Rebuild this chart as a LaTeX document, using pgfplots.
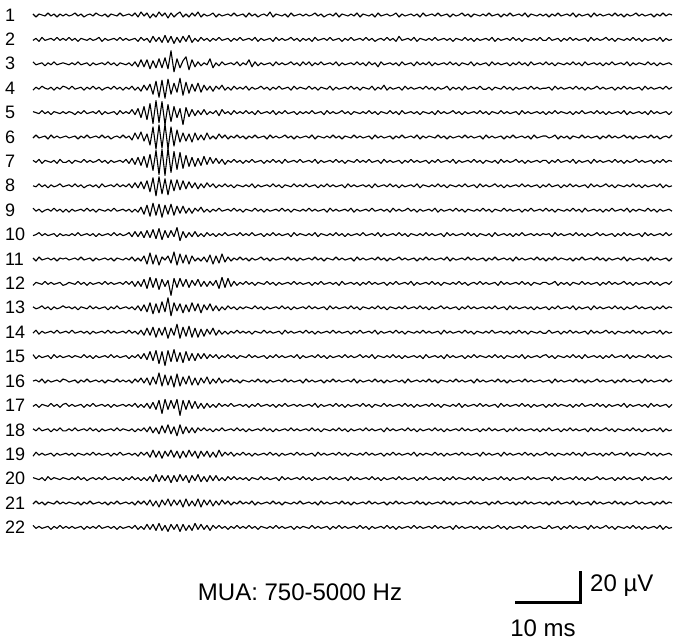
\documentclass[border=0pt]{standalone}
\usepackage{fontspec}
\setmainfont{Liberation Sans}
\usepackage{pgfplots}
\usepackage{pgfplotstable}
\pgfplotsset{compat=1.18}
% each trace: one row of values (pixels, positive = up), sampled every 3 px from x=33
\pgfplotstableread[header=false]{
1 -2 1 0 -1 2 -1 1 -2 1 -1 1 -1 0 2 -1 1 -2 0 1 -1 2 0 -1 1 -2 1 0 -1 2 -1 0 1 -1 2 -2 3 -1 2 -3 1 -2 3 -1 2 -3 2 -2 1 3 -2 1 -2 2 -1 3 -2 1 -1 0 2 -2 1 -1 0 1 -1 2 -1 0 1 -2 2 -1 1 -2 0 1 -1 3 -2 1 0 -1 1 -2 2 -1 0 1 -1 1 -1 0 2 -1 1 -2 0 1 -1 2 -2 1 0 -1 1 -1 2 -2 1 0 -1 1 -2 2 -1 0 1 -1 0 2 -2 1 -1 0 1 -1 1 -2 2 -1 0 1 -1 2 -1 0 1 -2 1 -1 0 2 -1 1 -2 1 0 -1 1 -1 2 -1 0 1 -2 1 -1 2 -1 0 1 -1 2 -2 1 0 -1 1 -1 1 -2 1 -1 2 -1 0 1 -1 2 -2 1 -1 0 1 -2 2 -1 1 -1 0 1 -1 2 -1 1 -2 1 -1 0 2 -1 1 -1 0 1 -2 1 -1 2 -1 1 0
}\rA
\pgfplotstableread[header=false]{
-1 1 -2 2 -1 0 1 -1 2 -1 1 -1 2 -1 1 -2 1 0 -1 1 -1 0 2 -2 1 -1 0 1 -1 2 -1 1 -1 0 1 -2 2 -1 1 -3 3 -2 2 -3 4 -3 3 -4 2 -3 3 -2 4 -3 1 -2 2 -1 1 -2 1 -1 2 -1 0 1 -2 1 -1 2 -1 0 1 -1 2 -2 1 -1 0 1 -2 2 -1 1 -1 0 2 -1 1 -2 1 -1 1 -2 2 -1 0 1 -1 2 -1 0 1 -2 1 -1 2 -1 0 1 -1 2 -1 1 -2 0 1 -1 2 -1 1 -2 3 -1 0 1 -1 2 -2 1 0 -1 1 -1 2 -1 0 1 -1 1 -2 1 0 -1 2 -1 1 -2 1 -1 0 1 -1 2 -2 1 -1 0 1 -1 2 -1 1 -2 1 0 -1 1 -1 2 -1 -1 2 -1 0 1 -2 1 -1 2 -1 1 -1 0 1 -2 2 -1 1 -1 0 2 -1 1 -2 1 0 -1 1 -1 2 -1 1 -2 1 -1 0 1 -1 2 -2 1 -1 0
}\rB
\pgfplotstableread[header=false]{
2 -1 0 1 -2 1 -1 2 -1 0 1 0 -1 1 -1 2 -1 0 1 -2 1 -1 0 1 -1 2 -1 1 -2 1 0 -1 1 -2 2 -3 4 -3 4 -5 3 -4 5 -4 6 -5 13 -8 5 -4 3 7 -6 4 -3 2 -2 1 -1 5 -4 1 -2 2 -1 0 1 -1 2 -2 1 -1 4 -3 2 -2 1 -1 0 1 -2 2 -1 1 -1 0 2 -1 1 -2 2 -1 2 -2 1 -1 2 -1 0 1 -1 2 -2 1 -1 0 1 -1 2 -1 1 -2 2 -1 1 -3 2 -1 0 1 -1 1 -2 2 -1 0 1 -2 2 -1 1 -1 2 -2 1 -1 0 1 -1 2 -1 1 -2 1 0 -1 2 -2 1 -1 0 1 -2 2 -1 1 -1 0 1 -2 1 -1 2 -1 1 -2 2 -1 0 1 -1 2 -1 1 -2 1 0 -1 1 -1 2 -1 1 -2 2 -1 0 1 -1 1 -2 1 -1 2 -1 0 1 -1 2 -2 1 -1 1 0 -1 2 -1 1 -2 1 -1 0 1 -1
}\rC
\pgfplotstableread[header=false]{
-2 1 -1 2 0 -1 1 -2 1 -1 2 1 -1 2 -1 0 1 -2 1 -1 2 -1 1 -2 0 1 -1 2 -1 1 -2 1 -1 2 -2 1 -3 3 -2 4 -6 7 -9 8 -10 9 -6 5 -4 10 -7 6 -5 4 -3 5 -4 3 -2 2 -3 2 -1 3 -2 1 -2 2 -1 1 -1 2 -2 1 -1 0 2 -1 1 -2 1 -1 2 -1 0 1 -2 2 -1 1 0 -1 2 -1 1 -2 1 0 -1 2 -2 1 -1 0 1 -1 2 -1 1 -2 1 0 -1 2 -2 1 -1 3 -2 1 -1 0 1 -2 2 -1 1 -1 0 1 -1 2 -1 1 -2 1 -1 0 2 -2 1 -1 1 -2 2 -1 0 1 -1 2 -1 -1 1 -2 1 0 -1 2 -1 1 -2 1 -1 0 1 -1 2 -1 1 -1 0 0 1 -2 2 -1 1 -1 0 1 -1 2 -1 1 -2 1 -1 0 2 -1 1 -1 0 1 -2 1 -1 2 -1 1 -1 0 1 -2 2 -1 1 -1 0 1 -1 2 -1 1
}\rD
\pgfplotstableread[header=false]{
1 0 -1 2 -1 1 -2 1 0 -1 1 -1 1 0 -2 1 -1 2 -1 0 1 -1 2 -2 1 -1 0 1 -2 2 -1 1 -1 3 -2 4 -5 6 -7 9 -11 12 -10 11 -12 8 -9 6 -5 4 -12 5 -4 3 -3 2 -2 3 -2 1 -1 2 -3 3 -1 1 -2 2 -1 1 -1 2 -1 1 -2 2 -1 0 1 -1 2 -2 1 -1 2 -1 0 1 -2 1 -1 1 -1 2 -1 0 1 -2 2 -1 1 -1 0 2 -1 1 -2 1 0 -1 1 -1 2 -1 1 -2 1 0 -1 2 -1 1 -2 2 -1 0 1 -1 1 -2 1 0 -1 1 -2 2 -1 1 -1 0 2 -1 1 -2 1 -1 0 1 -1 2 -1 1 -2 1 0 -1 2 -1 1 -1 0 1 -2 2 -1 1 -1 0 1 -1 1 -2 1 -1 2 -1 1 0 -1 1 -2 1 -1 2 -1 0 1 -1 2 -1 1 -2 1 -1 0 1 -1 2 -2 1 -1 0 1 -1 1 -2 2 -1 1 -1 0 1 -2 1
}\rE
\pgfplotstableread[header=false]{
-1 2 -1 0 1 -2 2 -1 1 -1 0 1 -1 0 1 -2 1 -1 2 -1 0 1 -1 2 -1 1 -2 0 1 -1 2 -1 1 -3 4 -2 5 -4 3 -8 10 -12 12 -11 13 -12 10 -9 7 -5 4 -4 3 -5 4 -3 2 -3 4 -2 1 -2 3 -1 2 -2 1 -1 2 -1 1 -2 1 -1 2 -1 0 1 -2 2 -1 1 -1 0 2 -1 1 -2 1 -1 0 1 -1 2 -2 1 0 -1 1 -1 2 -1 1 -2 1 0 -1 2 -1 1 -1 0 1 -2 2 -1 1 -1 0 1 -2 1 -1 2 -1 0 1 -1 2 -2 1 -1 1 0 -1 2 -1 1 -2 1 -1 0 1 -1 2 -1 1 -1 0 1 -2 2 -1 1 -1 0 1 -2 1 -1 2 -1 0 1 -1 1 -2 2 -1 0 1 1 -1 0 2 -2 1 -1 1 -2 1 0 -1 2 -1 1 -1 0 1 -2 1 -1 2 -1 1 -1 0 2 -1 1 -2 1 -1 0 1 -1 2 -1 1 -2 0 1 -1 2
}\rF
\pgfplotstableread[header=false]{
1 -1 2 -2 1 0 -1 1 -2 2 -1 -1 1 -2 1 0 -1 2 -1 1 -1 0 2 -1 1 -2 1 -1 0 1 -1 2 -2 3 -3 4 -4 5 -6 7 -9 11 -13 12 -14 13 -11 10 -8 9 -7 6 -5 4 -5 3 -4 5 -3 4 -2 3 -2 2 -3 1 -1 2 -1 1 -2 1 -1 2 -1 0 1 -2 1 -1 2 -1 1 -2 2 -1 0 1 -1 2 -1 0 1 -1 2 -2 1 -1 0 1 -1 2 -1 1 -2 1 0 -1 2 -1 1 -1 2 -1 0 1 -2 2 -1 1 -1 0 1 -2 1 -1 2 -1 1 -1 0 1 -2 1 -1 2 -1 0 1 -1 2 -2 1 -1 0 1 -1 2 -1 1 -2 1 0 -1 1 -2 2 -1 1 -1 0 2 -1 1 -2 1 -1 0 1 -1 1 1 -2 1 -1 2 -1 0 1 -1 2 -2 1 -1 0 1 -2 2 -1 1 -1 0 1 -1 2 -1 1 -2 1 -1 0 2 -1 1 -1 0 1 -2 1 -1 2 -1 1 0
}\rG
\pgfplotstableread[header=false]{
0 -1 2 -1 1 -2 1 -1 0 2 -1 0 1 -1 2 -1 1 -2 0 1 -1 1 -2 2 -1 0 1 -1 2 -1 1 -1 2 -2 3 -2 4 -3 5 -6 8 -10 9 -8 7 -9 6 -5 6 -4 5 -3 4 -2 3 -3 2 -2 3 -1 2 -2 1 -1 2 -1 1 -2 1 0 -1 1 -1 2 -2 1 -1 0 1 -1 2 -1 1 -2 1 0 -1 2 -1 1 -1 2 -1 0 1 -2 1 -1 2 -1 1 -1 0 1 -2 2 -1 1 -1 0 1 -1 1 -2 2 -1 0 1 -1 2 -1 1 -2 1 -1 0 1 -1 2 -2 1 0 -1 1 -1 2 -1 1 -2 1 0 -1 1 -1 2 -1 0 1 -2 2 -1 1 -1 0 2 -1 1 -2 1 -1 0 1 -1 2 -1 1 -1 0 1 -2 1 -1 2 -1 0 1 -2 1 -1 2 -1 1 -1 0 1 -2 2 -1 1 -1 0 2 -1 1 -2 1 0 -1 1 -1 2 -1 1 -2 1 -1 0 1 -1 2 -2 1 -1 0
}\rH
\pgfplotstableread[header=false]{
2 -1 1 -2 0 1 -1 2 -1 1 -2 1 -2 1 -1 0 1 -1 2 -1 1 -2 1 0 -1 1 -1 2 -1 0 1 -1 1 -2 1 -2 3 -4 5 -6 7 -5 6 -7 5 -4 6 -5 4 -3 4 -3 2 -3 2 -1 3 -2 1 -2 1 -1 2 -1 0 1 -1 2 -1 1 -2 1 0 -1 2 -1 1 -2 1 -1 0 1 -1 2 -1 1 -2 1 0 -1 1 -1 2 -1 1 -1 0 1 -2 2 -1 1 -1 0 1 -1 2 -2 1 -1 0 1 -1 2 -1 0 1 -1 1 -2 2 -1 1 -1 0 2 -1 1 -2 1 -1 0 1 -1 2 -2 1 -1 0 1 -1 2 -1 1 -2 1 0 -1 1 -1 2 -1 1 -2 1 0 -1 2 -1 1 -1 0 1 -2 1 -1 2 -1 0 1 -1 2 -1 1 -2 1 0 -1 1 -1 2 -1 1 -2 2 -1 0 1 -1 1 -2 1 -1 2 -1 0 1 -1 2 -2 1 -1 1 0 -1 2 -1 1 -2 1 -1 0 1 -1
}\rI
\pgfplotstableread[header=false]{
-1 0 2 -1 1 -1 0 1 -2 1 -1 0 -1 1 -1 2 -1 0 1 -1 1 -2 1 -1 0 1 -1 2 -1 1 -1 0 2 -2 3 -2 3 -3 4 -3 5 -4 6 -5 4 -3 4 -2 7 -6 3 -3 2 -2 3 -2 1 -2 2 -1 1 -2 1 -1 2 -1 0 1 -1 2 -1 1 -1 2 -1 0 1 -2 1 -1 2 -1 1 -1 0 1 -2 2 -1 1 0 -1 1 -1 2 -2 1 0 -1 1 -1 2 -1 1 -2 1 -1 0 1 -1 2 -1 0 1 -1 2 -2 1 -1 0 1 -1 2 -1 1 -2 1 0 -1 1 -1 2 -1 1 -1 0 1 -2 2 -1 1 -1 0 1 -1 2 -1 1 -2 1 0 -1 1 -2 2 -1 0 1 -1 1 -2 1 -1 2 -1 0 1 -1 1 -1 1 0 1 -2 2 -1 1 -1 0 1 -1 2 -1 1 -2 1 -1 0 2 -1 1 -1 0 1 -2 1 -1 2 -1 1 -1 0 1 -2 2 -1 1 -1 0 1 -1 2 -1 1
}\rJ
\pgfplotstableread[header=false]{
1 -2 2 -1 0 1 -1 1 -2 1 0 1 -1 0 1 -1 2 -1 0 1 -2 1 -1 0 1 -1 1 -2 1 0 -1 1 -1 2 -2 1 -2 3 -5 6 -5 4 -6 2 -1 3 -4 7 -6 5 -4 4 -5 3 -2 1 -2 2 -3 4 -5 3 -4 5 -3 2 -2 1 -1 2 -1 1 -2 1 -1 0 2 -1 1 -2 1 -1 0 1 -1 2 -1 1 -2 1 -1 0 1 -1 2 -1 1 -2 1 0 -1 2 -1 1 -1 0 1 -2 2 -1 1 -1 0 1 -1 2 -1 1 -2 1 -1 0 2 -1 1 -1 0 1 -2 1 -1 2 -1 1 -1 0 1 -1 2 -2 1 -1 0 1 -1 2 -1 1 -1 0 1 -2 1 -1 2 -1 0 1 -1 1 -2 2 -1 1 -1 0 1 -1 2 -1 1 -2 1 -1 2 -1 1 0 -1 1 -2 1 -1 2 -1 0 1 -1 2 -1 1 -2 1 -1 0 1 -1 2 -2 1 -1 0 1 -1 1 -2 2 -1 1 -1 0 1 -2 1
}\rK
\pgfplotstableread[header=false]{
-2 1 0 -1 2 -1 1 -1 0 1 -2 -1 1 0 -1 2 -1 1 -2 1 -1 0 1 -1 2 -1 1 -1 0 1 -1 2 -1 2 -3 2 -3 4 -5 6 -4 5 -6 4 -3 3 -12 5 -4 5 -3 4 -4 3 -2 4 -3 2 -3 2 -2 3 -5 6 -4 5 -3 2 -2 1 -1 2 -1 1 -2 1 0 -1 2 -1 1 -2 1 -1 0 1 -1 2 -1 1 -1 0 1 -2 1 -1 2 -1 0 1 -1 1 -2 2 -1 0 1 -1 1 -2 1 -1 2 -1 1 -1 0 1 -2 1 -1 2 -1 0 1 -1 2 -2 1 -1 0 1 -1 2 -1 1 -2 1 0 -1 1 -1 2 -1 1 -2 0 1 -1 2 -1 1 -1 0 1 -2 2 -1 1 -1 0 1 -1 2 -1 1 -2 1 0 -1 1 1 -1 0 2 -2 1 -1 1 -2 1 0 -1 2 -1 1 -1 0 1 -2 1 -1 2 -1 1 -1 0 2 -1 1 -2 1 -1 0 1 -1 2 -1 1 -2 0 1 -1 2
}\rL
\pgfplotstableread[header=false]{
1 -1 0 2 -1 1 -2 1 -1 0 2 0 1 -1 1 -2 1 0 -1 2 -1 1 -1 0 1 -2 1 -1 2 -1 0 1 -1 1 -2 2 -3 3 -4 5 -6 4 -5 6 -4 10 -8 5 -3 4 -5 3 -4 5 -3 4 -5 3 -2 4 -3 2 -3 1 -2 2 -1 1 -2 1 -1 1 0 -1 2 -1 1 -2 1 -1 0 1 -1 2 -1 1 -2 1 -1 0 1 -1 2 -1 1 -1 0 1 -2 2 -1 1 -1 0 1 -1 2 -1 1 -2 1 0 -1 1 -1 2 -1 1 -2 1 0 -1 1 -1 2 -1 0 1 -1 2 -1 1 -2 1 -1 0 2 -1 1 -1 0 1 -2 1 -1 2 -1 1 -1 0 1 -1 1 -1 2 -1 0 1 -2 2 -1 1 -1 0 1 -1 1 -2 1 -1 0 1 -2 1 -1 2 -1 0 1 -1 2 -2 1 -1 0 1 -2 2 -1 1 -1 0 1 -1 2 -1 1 -2 1 -1 0 2 -1 1 -1 0 1 -2 1 -1 2 -1 1 0
}\rM
\pgfplotstableread[header=false]{
-1 2 -2 1 -1 0 1 -1 2 -1 0 1 -1 2 -1 0 1 -1 1 -2 1 -1 0 1 -1 2 -1 1 -1 0 1 -1 2 -1 1 -2 2 -3 4 -3 5 -5 4 -3 5 -6 4 -3 8 -6 5 -4 6 -5 4 -5 3 -4 3 -2 4 -3 2 -2 1 -2 1 -1 2 -1 1 -1 1 -2 1 0 -1 2 -1 1 -1 0 1 -2 2 -1 1 -1 0 1 -1 2 -1 1 -2 1 -1 0 1 -1 2 -1 1 -1 0 1 -2 1 -1 2 -1 0 1 -1 2 -2 1 -1 0 1 -1 2 -1 1 -2 1 0 -1 1 -1 2 -1 1 -1 0 1 -2 2 -1 1 -1 0 1 -1 2 -1 1 -2 1 0 -1 1 -1 2 -1 0 1 -1 1 -2 1 -1 2 -1 1 -2 1 0 -1 1 -1 -1 2 -1 0 1 -2 1 -1 2 -1 1 -1 0 1 -2 2 -1 1 -1 0 2 -1 1 -2 1 0 -1 1 -1 2 -1 1 -2 1 -1 0 1 -1 2 -2 1 -1 0
}\rN
\pgfplotstableread[header=false]{
2 -2 1 -1 0 1 -2 2 -1 1 -1 0 1 -1 1 0 -1 2 -1 1 -2 1 -1 0 1 -1 2 -1 1 -1 0 1 -2 1 -1 2 -2 3 -3 5 -4 6 -7 5 -9 6 -5 7 -5 4 -6 5 -4 3 -4 3 -2 3 -2 2 -1 2 -2 1 -1 2 -1 1 -2 1 0 -1 2 -1 1 -1 0 1 -2 1 -1 2 -1 1 -1 0 1 -1 2 -2 1 -1 0 1 -1 2 -1 1 -2 1 -1 0 1 -1 2 -1 1 -1 0 2 -1 1 -1 2 -2 1 0 -1 1 -1 2 -1 1 -2 1 -1 0 1 -1 1 -2 2 -1 0 1 -1 1 -2 2 -1 1 -1 0 1 -2 1 -1 2 -1 1 0 -1 1 -1 2 -1 1 -2 1 0 -1 1 -1 2 -2 1 -1 0 1 -1 1 2 -1 1 -2 1 0 -1 1 -1 2 -1 1 -2 2 -1 0 1 -1 1 -2 1 -1 2 -1 0 1 -1 2 -2 1 -1 1 0 -1 2 -1 1 -2 1 -1 0 1 -1
}\rO
\pgfplotstableread[header=false]{
0 1 -1 2 -2 1 -1 0 1 -1 2 1 -1 0 1 -2 1 -1 2 -1 0 1 -1 1 -2 1 0 -1 2 -1 1 -1 1 -2 2 -1 3 -2 3 -4 4 -3 8 -5 6 -4 5 -6 7 -5 4 -3 5 -4 3 -4 3 -2 4 -3 2 -2 3 -2 1 -1 2 -1 1 -2 1 0 -1 1 -1 2 -1 1 -2 1 -1 0 1 -1 2 -1 1 -1 0 1 -2 2 -1 1 -1 0 1 -2 1 -1 2 -1 1 -1 0 1 -1 2 -2 1 -1 0 1 -1 2 -1 1 -2 1 -1 0 1 -1 1 -2 2 -1 0 1 -1 1 -1 2 -1 1 -2 1 0 -1 1 -1 2 -1 1 -1 0 1 -2 2 -1 1 -1 0 1 -1 2 -1 1 -2 1 -1 0 1 -1 2 -1 1 -1 0 1 -1 0 1 -2 2 -1 1 -1 0 1 -1 2 -1 1 -2 1 -1 0 2 -1 1 -1 0 1 -2 1 -1 2 -1 1 -1 0 1 -2 2 -1 1 -1 0 1 -1 2 -1 1
}\rP
\pgfplotstableread[header=false]{
-1 1 -2 1 0 -1 2 -1 1 -2 1 2 -1 1 -1 0 1 -2 1 -1 2 -1 0 1 -1 1 -2 1 -1 0 1 -1 1 -1 2 -2 1 -2 2 -3 3 -4 5 -8 6 -4 5 -3 6 -10 5 -4 5 -3 4 -3 2 -3 2 -2 1 -2 2 -1 1 -1 2 -1 0 1 -1 1 -2 1 -1 2 -1 0 1 -1 1 -2 1 -1 2 -1 0 1 -1 1 -1 0 1 -1 2 -2 1 -1 0 1 -1 2 -1 1 -2 1 -1 0 1 -1 2 -1 1 -2 1 0 -1 2 -1 1 -1 0 1 -1 2 -1 1 -2 1 -1 0 1 -1 2 -1 1 -2 1 0 -1 1 -1 2 -2 1 -1 0 1 -1 2 -1 1 -1 0 1 -2 2 -1 1 -1 0 1 -1 2 -1 1 -2 1 -1 0 1 -2 1 -1 2 -1 1 0 -1 1 -2 1 -1 2 -1 0 1 -1 2 -1 1 -2 1 -1 0 1 -1 2 -2 1 -1 0 1 -1 1 -2 2 -1 1 -1 0 1 -2 1
}\rQ
\pgfplotstableread[header=false]{
1 -1 2 -1 0 1 -2 1 -1 2 -1 -1 1 -1 2 -1 0 1 -1 2 -1 1 -2 1 -1 0 1 -1 2 -1 1 0 -1 1 -2 1 -1 2 -2 3 -3 2 -4 4 -3 5 -4 3 -6 5 -4 3 -3 2 -3 2 -1 2 -1 1 -2 1 -1 2 -1 0 1 -1 2 -1 1 -2 1 -1 0 1 -1 2 -1 1 -2 1 -1 0 1 -1 2 -1 1 -1 0 1 -1 2 -1 1 -2 1 0 -1 1 -1 2 -1 1 -2 1 -1 0 1 -1 2 -1 1 -1 0 1 -2 2 -1 1 -1 0 1 -1 2 -1 1 -2 1 -1 0 1 -1 2 -1 1 -2 1 -1 0 1 -1 2 -1 1 -1 0 1 -2 1 -1 2 -1 1 -1 0 1 -2 1 -1 2 -1 1 -1 0 1 -1 1 -2 1 -1 2 -1 0 1 -2 1 -1 2 -1 1 -1 0 1 -2 2 -1 1 -1 0 2 -1 1 -2 1 0 -1 1 -1 2 -1 1 -2 1 -1 0 1 -1 2 -2 1 -1 0
}\rR
\pgfplotstableread[header=false]{
-2 2 -1 1 -1 0 1 -2 1 -1 0 1 -1 1 -2 1 0 -1 1 -1 2 -1 1 -1 0 1 -2 1 -1 2 -1 0 1 -1 1 -2 2 -1 2 -3 4 -3 3 -4 3 -2 4 -3 3 -4 3 -3 4 -2 3 -4 3 -2 3 -3 2 -3 4 -2 2 -1 2 -2 1 -1 2 -1 1 -2 1 -1 0 1 -1 2 -1 1 -2 1 -1 0 1 -1 2 -1 1 -1 0 1 -2 2 -1 1 -1 0 1 -1 2 -1 1 -2 1 0 -1 1 -1 2 -1 1 -1 0 1 -2 1 -1 2 -1 1 -1 0 1 -1 2 -2 1 -1 1 0 -1 2 -1 1 -2 1 -1 0 1 -1 2 -1 1 -1 0 1 -2 2 -1 1 -1 0 1 -2 2 -1 1 -1 0 1 -1 2 -1 1 -2 1 -1 0 2 -1 1 -2 1 0 -1 1 -1 2 -1 1 -2 2 -1 0 1 -1 1 -2 1 -1 2 -1 0 1 -1 2 -2 1 -1 1 0 -1 2 -1 1 -2 1 -1 0 1 -1
}\rS
\pgfplotstableread[header=false]{
1 0 -1 1 -2 2 -1 1 0 -1 1 0 -1 1 -1 2 -1 1 -2 0 1 -1 1 -1 2 -1 0 1 -1 1 -2 1 -1 2 -1 1 -2 1 -2 2 -3 4 -3 3 -2 3 -4 3 -3 4 -2 3 -4 3 -2 4 -3 2 -3 3 -2 3 -2 1 -2 2 -1 2 -1 1 -1 1 -2 1 0 -1 2 -1 1 -1 0 1 -2 2 -1 1 -1 0 1 -1 2 -1 1 -2 1 -1 0 1 -1 2 -1 1 -1 0 1 -2 2 -1 1 -1 0 1 -1 2 -1 1 -2 1 -1 0 1 -1 2 -1 1 -1 0 1 -2 1 -1 2 -1 0 1 -1 1 -2 1 -1 2 -1 1 0 -1 1 -1 2 -1 1 -2 1 -1 0 1 -1 2 -1 1 -2 1 -1 0 1 -1 2 -1 1 -1 0 1 0 1 -2 2 -1 1 -1 0 1 -1 2 -1 1 -2 1 -1 0 2 -1 1 -1 0 1 -2 1 -1 2 -1 1 -1 0 1 -2 2 -1 1 -1 0 1 -1 2 -1 1
}\rT
\pgfplotstableread[header=false]{
-1 2 -1 1 -2 1 0 -1 2 -1 1 -1 1 0 -1 1 -2 1 -1 2 -1 0 1 -1 1 -2 1 -1 2 -1 0 1 -1 1 -2 2 -1 2 -2 3 -3 2 -4 3 -2 4 -3 3 -2 3 -4 4 -3 2 -3 4 -4 3 -2 3 -3 2 -2 3 -1 2 -2 1 -1 2 -1 1 -1 2 -2 1 -1 0 1 -1 2 -1 1 -2 1 0 -1 1 -1 2 -1 0 1 -1 1 -2 2 -1 1 -1 0 1 -1 2 -1 1 -2 1 -1 0 1 -1 2 -1 1 -1 0 1 -2 1 -1 2 -1 1 -1 0 1 -1 2 -1 1 -2 1 -1 0 1 -1 2 -1 1 -2 1 -1 0 1 -1 2 -1 1 -1 0 1 -2 1 -1 2 -1 0 1 -1 1 -2 1 -1 2 -1 1 -1 0 1 -1 1 -2 1 -1 2 -1 0 1 -1 2 -2 1 -1 0 1 -2 2 -1 1 -1 0 1 -1 2 -1 1 -2 1 -1 0 2 -1 1 -1 0 1 -2 1 -1 2 -1 1 0
}\rU
\pgfplotstableread[header=false]{
2 -1 1 -1 0 1 -2 1 -1 2 -1 1 -1 1 -1 0 1 -2 1 -1 1 -1 2 -1 0 1 -1 1 -2 1 -1 0 1 -1 2 -2 1 -2 3 -2 3 -3 4 -3 2 -4 3 -2 3 -4 3 -3 2 -3 4 -2 3 -2 2 -3 2 -1 2 -1 1 -2 1 -1 2 -1 1 -1 2 -1 1 -2 1 0 -1 1 -1 2 -1 1 -1 0 1 -2 1 -1 1 0 -1 2 -1 1 -1 0 1 -2 1 -1 2 -1 1 -1 0 1 -1 2 -1 1 -2 1 -1 0 1 -1 2 -1 1 -2 1 -1 0 1 -1 2 -1 1 -1 0 1 -1 2 -1 1 -1 0 1 -2 2 -1 1 -1 0 1 -1 1 -2 1 -1 1 -1 0 2 -1 1 -2 1 -1 0 1 -1 2 -1 1 -1 0 1 -1 -1 2 -1 0 1 -2 1 -1 2 -1 1 -1 0 1 -2 2 -1 1 -1 0 2 -1 1 -2 1 0 -1 1 -1 2 -1 1 -2 1 -1 0 1 -1 2 -2 1 -1 0
}\rV
\pgfplotstabletranspose{\tA}{\rA}
\pgfplotstabletranspose{\tB}{\rB}
\pgfplotstabletranspose{\tC}{\rC}
\pgfplotstabletranspose{\tD}{\rD}
\pgfplotstabletranspose{\tE}{\rE}
\pgfplotstabletranspose{\tF}{\rF}
\pgfplotstabletranspose{\tG}{\rG}
\pgfplotstabletranspose{\tH}{\rH}
\pgfplotstabletranspose{\tI}{\rI}
\pgfplotstabletranspose{\tJ}{\rJ}
\pgfplotstabletranspose{\tK}{\rK}
\pgfplotstabletranspose{\tL}{\rL}
\pgfplotstabletranspose{\tM}{\rM}
\pgfplotstabletranspose{\tN}{\rN}
\pgfplotstabletranspose{\tO}{\rO}
\pgfplotstabletranspose{\tP}{\rP}
\pgfplotstabletranspose{\tQ}{\rQ}
\pgfplotstabletranspose{\tR}{\rR}
\pgfplotstabletranspose{\tS}{\rS}
\pgfplotstabletranspose{\tT}{\rT}
\pgfplotstabletranspose{\tU}{\rU}
\pgfplotstabletranspose{\tV}{\rV}
\newcommand\tr[2]{\addplot[black, no marks, line width=1.1pt, line join=round] table[x expr=33+3*\coordindex, y expr=#2-\thisrowno{1}]{#1};}
\begin{document}
\begin{tikzpicture}
\begin{axis}[width=677pt, height=642pt, scale only axis,
  xmin=0, xmax=677, ymin=0, ymax=642, y dir=reverse,
  hide axis, clip=false]
\path (rel axis cs:0,0) rectangle (rel axis cs:1,1);
\tr{\tA}{15}
\tr{\tB}{39.4}
\tr{\tC}{63.8}
\tr{\tD}{88.2}
\tr{\tE}{112.6}
\tr{\tF}{137}
\tr{\tG}{161.4}
\tr{\tH}{185.8}
\tr{\tI}{210.2}
\tr{\tJ}{234.6}
\tr{\tK}{259}
\tr{\tL}{283.4}
\tr{\tM}{307.8}
\tr{\tN}{332.2}
\tr{\tO}{356.6}
\tr{\tP}{381}
\tr{\tQ}{405.4}
\tr{\tR}{429.8}
\tr{\tS}{454.2}
\tr{\tT}{478.6}
\tr{\tU}{503}
\tr{\tV}{527.4}
\addplot[black, no marks, line width=3pt, line join=miter, line cap=butt] coordinates {(515,602) (580,602) (580,571)};
\begin{scope}[every node/.style={inner sep=0pt, anchor=west, font=\fontsize{18}{20}\selectfont}]
\node at (axis cs:5,15) {1};
\node at (axis cs:5,39.4) {2};
\node at (axis cs:5,63.8) {3};
\node at (axis cs:5,88.2) {4};
\node at (axis cs:5,112.6) {5};
\node at (axis cs:5,137) {6};
\node at (axis cs:5,161.4) {7};
\node at (axis cs:5,185.8) {8};
\node at (axis cs:5,210.2) {9};
\node at (axis cs:5,234.6) {10};
\node at (axis cs:5,259) {11};
\node at (axis cs:5,283.4) {12};
\node at (axis cs:5,307.8) {13};
\node at (axis cs:5,332.2) {14};
\node at (axis cs:5,356.6) {15};
\node at (axis cs:5,381) {16};
\node at (axis cs:5,405.4) {17};
\node at (axis cs:5,429.8) {18};
\node at (axis cs:5,454.2) {19};
\node at (axis cs:5,478.6) {20};
\node at (axis cs:5,503) {21};
\node at (axis cs:5,527.4) {22};
\end{scope}
\node[inner sep=0pt, font=\fontsize{24}{28}\selectfont] at (axis cs:300,592) {MUA: 750-5000 Hz};
\node[inner sep=0pt, font=\fontsize{24}{28}\selectfont] at (axis cs:543,628) {10 ms};
\node[inner sep=0pt, anchor=west, font=\fontsize{24}{28}\selectfont] at (axis cs:590,586) {20 µV};
\end{axis}
\end{tikzpicture}
\end{document}
